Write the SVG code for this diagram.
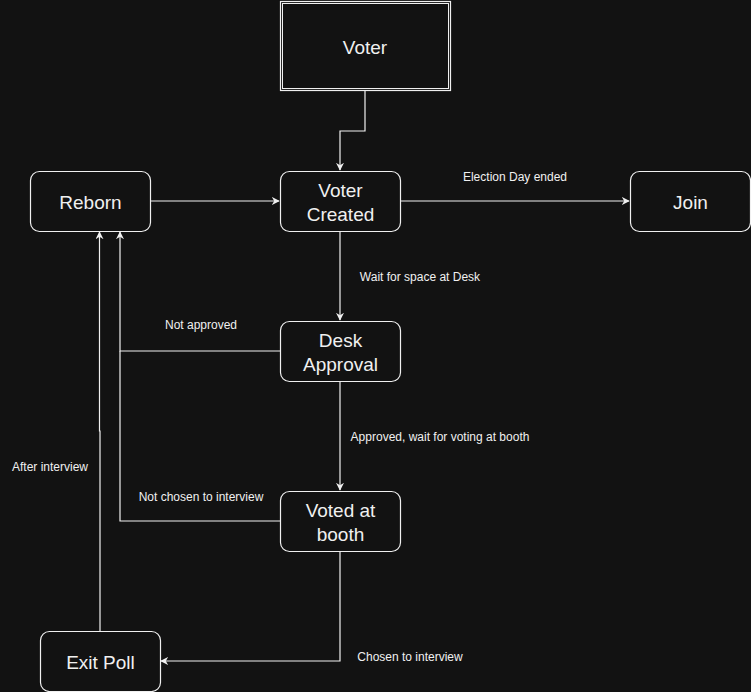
<svg xmlns="http://www.w3.org/2000/svg" width="751" height="692" viewBox="0 0 751 692">
<style>
.node{fill:#121212;stroke:#f0f0f0;stroke-width:1.2}
.thin{fill:none;stroke:#f0f0f0;stroke-width:1}
.nt{font-family:"Liberation Sans",Arial,sans-serif;font-size:19px;fill:#f0f0f0;text-anchor:middle}
.el{font-family:"Liberation Sans",Arial,sans-serif;font-size:12px;fill:#f0f0f0;text-anchor:middle}
.edge{fill:none;stroke:#f0f0f0;stroke-width:1.2}
</style>
<defs>
<marker id="arr" viewBox="0 0 10 10" refX="9" refY="5" markerWidth="8" markerHeight="8" markerUnits="userSpaceOnUse" orient="auto">
<path d="M0,0 L10,5 L0,10 L3,5 Z" fill="#f0f0f0"/>
</marker>
</defs>
<rect width="751" height="692" fill="#121212"/>
<g id="edges">
<path class="edge" d="M365,91 V131 H340 V170" marker-end="url(#arr)"/>
<path class="edge" d="M150,201 H279" marker-end="url(#arr)"/>
<path class="edge" d="M400,201 H629" marker-end="url(#arr)"/>
<path class="edge" d="M340,231 V320" marker-end="url(#arr)"/>
<path class="edge" d="M280,351 H120 V232" marker-end="url(#arr)"/>
<path class="edge" d="M340,381 V490" marker-end="url(#arr)"/>
<path class="edge" d="M280,521 H120 V351"/>
<path class="edge" d="M340,551 V661 H161" marker-end="url(#arr)"/>
<path class="edge" d="M100,631 V431 H99.5 V232" marker-end="url(#arr)"/>
<text class="el" x="515" y="181">Election Day ended</text>
<text class="el" x="420" y="281">Wait for space at Desk</text>
<text class="el" x="201" y="329">Not approved</text>
<text class="el" x="440" y="441">Approved, wait for voting at booth</text>
<text class="el" x="201" y="501">Not chosen to interview</text>
<text class="el" x="410" y="661">Chosen to interview</text>
<text class="el" x="50" y="471">After interview</text>
</g>
<g id="voter">
<rect class="node" x="280.5" y="1.5" width="170" height="89"/>
<rect class="thin" x="282.5" y="3.5" width="166" height="85"/>
<text class="nt" x="365" y="54">Voter</text>
</g>
<g id="reborn">
<rect class="node" x="30.5" y="171.5" width="120" height="60" rx="9"/>
<text class="nt" x="90.5" y="209">Reborn</text>
</g>
<g id="voter-created">
<rect class="node" x="280.5" y="171.5" width="120" height="60" rx="9"/>
<text class="nt" x="340.5" y="197">Voter</text>
<text class="nt" x="340.5" y="221">Created</text>
</g>
<g id="join">
<rect class="node" x="630.5" y="171.5" width="120" height="60" rx="9"/>
<text class="nt" x="690.5" y="209">Join</text>
</g>
<g id="desk-approval">
<rect class="node" x="280.5" y="321.5" width="120" height="60" rx="9"/>
<text class="nt" x="340.5" y="347">Desk</text>
<text class="nt" x="340.5" y="371">Approval</text>
</g>
<g id="voted-at-booth">
<rect class="node" x="280.5" y="491.5" width="120" height="60" rx="9"/>
<text class="nt" x="340.5" y="517">Voted at</text>
<text class="nt" x="340.5" y="541">booth</text>
</g>
<g id="exit-poll">
<rect class="node" x="40.5" y="631.5" width="120" height="60" rx="9"/>
<text class="nt" x="100.5" y="669">Exit Poll</text>
</g>
</svg>
